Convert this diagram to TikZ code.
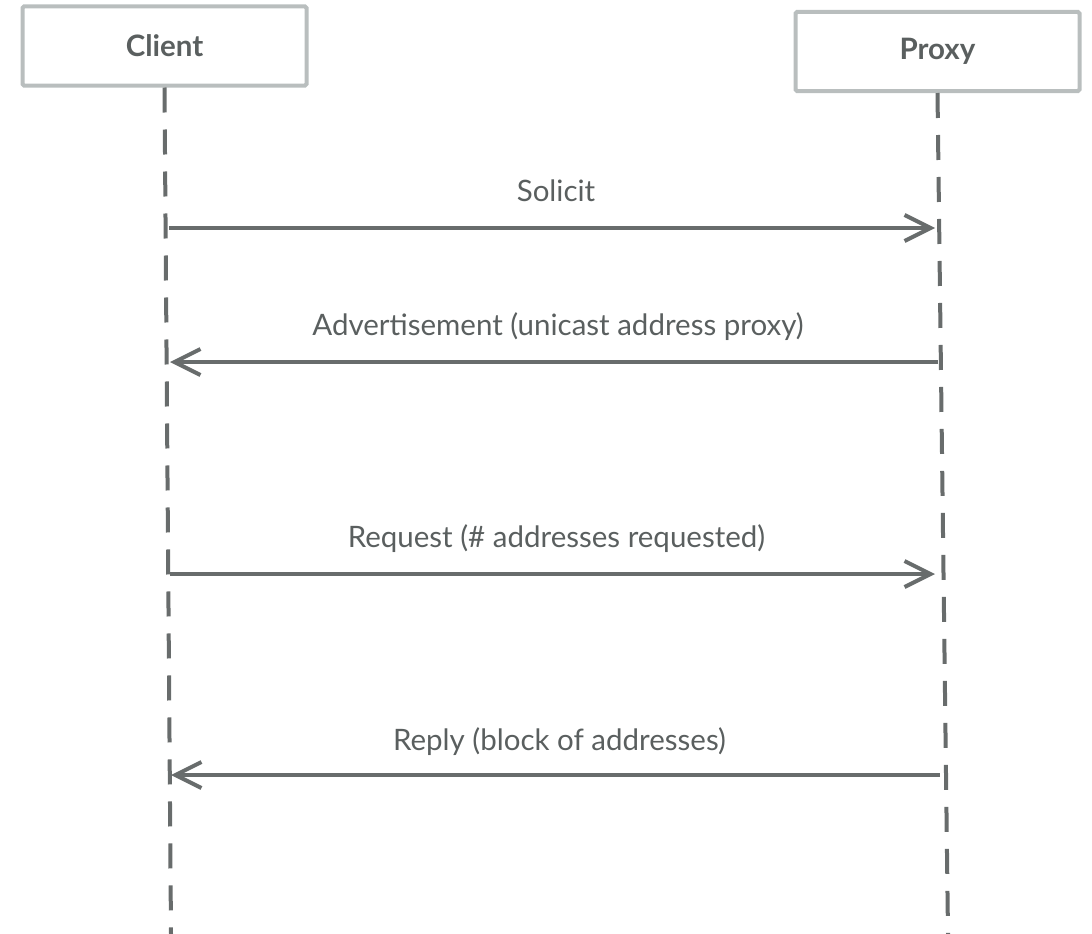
\documentclass[tikz,border=0pt]{standalone}
\usepackage{fontspec}
\setmainfont{Lato}
\usetikzlibrary{arrows.meta, positioning}
\definecolor{mline}{HTML}{686C6C}
\definecolor{mbox}{HTML}{B9BEBE}
\definecolor{mtext}{HTML}{5A5F5F}
\tikzstyle{actor} = [rectangle, rounded corners=1.5pt, draw=mbox, line width=4pt, minimum width=284pt, minimum height=79pt, text=mtext, font=\fontsize{29.5}{34}\selectfont\bfseries]
\tikzstyle{lifeline} = [mline, line width=4pt, dash pattern=on 25pt off 17pt]
\tikzstyle{msg} = [mline, line width=4pt, -{Straight Barb[length=26pt, width=26pt, line width=4pt]}]
\tikzstyle{msglabel} = [text=mtext, font=\fontsize{29.5}{34}\selectfont, inner sep=0pt, xshift=4pt]

\begin{document}
\begin{tikzpicture}[x=1pt, y=-1pt]
  \useasboundingbox (0,0) rectangle (1092,934);
  \node (client) [actor] at (164.5,46) {Client};
  \node (proxy) [actor] at (937.5,51.5) {Proxy};
  \coordinate (clientEnd) at (171,934);
  \coordinate (proxyEnd) at (948,934);
  \draw [lifeline] (client.south) -- (clientEnd);
  \draw [lifeline] (proxy.south) -- (proxyEnd);
  % messages
  \coordinate (c1) at (169,228);   \coordinate (p1) at (935,228);
  \coordinate (c2) at (170,362);   \coordinate (p2) at (938,362);
  \coordinate (c3) at (170,574);   \coordinate (p3) at (935,574);
  \coordinate (c4) at (171,775);   \coordinate (p4) at (940,775);
  \draw [msg] (c1) -- node (solicit) [msglabel, above=24pt] {Solicit} (p1);
  \draw [msg] (p2) -- node (advert) [msglabel, above=19pt] {Advertisement (unicast address proxy)} (c2);
  \draw [msg] (c3) -- node (request) [msglabel, above=19pt] {Request (\# addresses requested)} (p3);
  \draw [msg] (p4) -- node (reply) [msglabel, above=17pt] {Reply (block of addresses)} (c4);
\end{tikzpicture}
\end{document}
